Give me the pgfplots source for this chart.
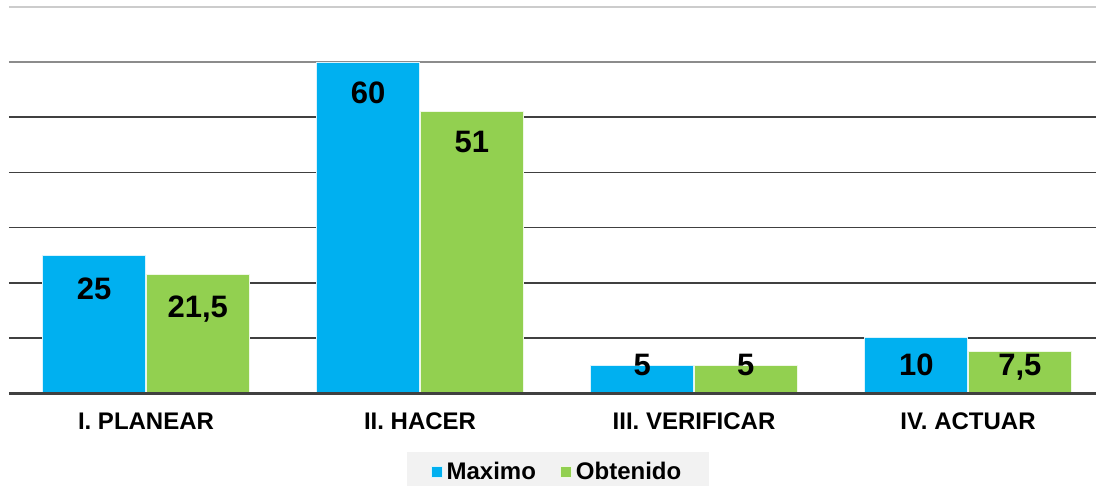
\documentclass[border=0pt]{standalone}
\usepackage{fontspec}
\setmainfont{Liberation Sans}
\usepackage{pgfplots}
\pgfplotsset{compat=1.18}
\definecolor{cblue}{HTML}{00B0F0}
\definecolor{cgreen}{HTML}{92D050}
\pgfplotsset{sqlegend/.style={legend image code/.code={\fill[##1] (0pt,-2.75pt) rectangle (5.5pt,2.75pt);}}}
\begin{document}
\begin{tikzpicture}
\useasboundingbox (-4.5pt,-46.5pt) rectangle (543.5pt,196.5pt);
\begin{axis}[
  at={(0,0)}, anchor=south west,
  scale only axis, width=543.5pt, height=193pt,
  xmin=-0.5, xmax=3.467, ymin=0, ymax=70,
  axis line style={draw=none},
  clip=false,
  ytick={10,20,30,40,50}, yticklabels={},
  ymajorgrids, grid style={black!75, line width=0.9pt},
  major tick length=0pt,
  xtick={0,1,2,3},
  xticklabels={I. PLANEAR, II. HACER, III. VERIFICAR, IV. ACTUAR},
  xticklabel style={font=\bfseries\fontsize{12}{14}\selectfont, anchor=base, yshift=-18pt},
  legend style={at={(0.505,-0.205)}, anchor=center, fill=black!5, draw=none,
    font=\bfseries\fontsize{12}{14}\selectfont, inner xsep=12pt, inner ysep=3pt},
  legend columns=2,
  legend cell align=left,
  /tikz/every even column/.append style={column sep=10pt},
]
\draw[black!20, line width=0.9pt] (axis cs:-0.5,70) -- (axis cs:3.467,70);
\draw[black!45, line width=0.9pt] (axis cs:-0.5,60) -- (axis cs:3.467,60);
\addplot[ybar, bar width=0.376, bar shift=-0.189, fill=cblue, draw=white!85!cblue, line width=0.5pt, sqlegend]
  coordinates {(0,25) (1,60) (2,5) (3,10)};
\addlegendentry{Maximo}
\addplot[ybar, bar width=0.376, bar shift=0.189, fill=cgreen, draw=white!85!cgreen, line width=0.5pt, sqlegend]
  coordinates {(0,21.5) (1,51) (2,5) (3,7.5)};
\addlegendentry{Obtenido}
\addplot[draw=none, mark=none, forget plot, nodes near coords, point meta=explicit symbolic,
  nodes near coords style={anchor=center, font=\bfseries\fontsize{15.5}{17}\selectfont, inner sep=0pt, text depth=0pt}]
  table[meta=label] {
x y label
-0.189 19.0 25
0.189 15.6 21,5
0.811 54.5 60
1.189 45.5 51
1.811 5.1 5
2.189 5.1 5
2.811 5.1 10
3.189 5.1 7,5
};
\draw[black!75, line width=1.5pt] (axis cs:-0.5,0) -- (axis cs:3.467,0);
\end{axis}
\end{tikzpicture}
\end{document}
